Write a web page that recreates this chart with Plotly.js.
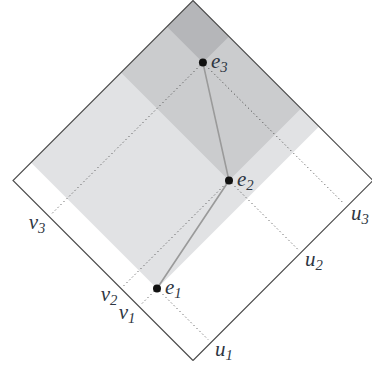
<!DOCTYPE html>
<html>
<head>
<meta charset="utf-8">
<script src="https://cdn.plot.ly/plotly-3.0.1.min.js"></script>
<style>
  html, body { margin: 0; padding: 0; background: #fff; }
  #chart { width: 372px; height: 369px; }
</style>
</head>
<body>
<div id="chart"></div>
<script>
// Events in light-cone coordinates (u, v), both running 0..1 along the diamond's lower edges
const eventLabels = ['e<sub>1</sub>', 'e<sub>2</sub>', 'e<sub>3</sub>'];
const uVals = [0.10, 0.60, 0.855];
const vVals = [0.30, 0.40, 0.80];
const uLabels = ['u<sub>1</sub>', 'u<sub>2</sub>', 'u<sub>3</sub>'];
const vLabels = ['v<sub>1</sub>', 'v<sub>2</sub>', 'v<sub>3</sub>'];
const coneFills = ['#e1e2e4', '#cbccce', '#b5b6b9'];

// Rotate (u, v) into the plane: u grows up-right, v grows up-left
const toX = (u, v) => u - v;
const toY = (u, v) => u + v;

// one plot unit = 180 px on both axes
const PX = 1 / 180;
const textColor = '#2e3642';
const textFont = () => ({ family: 'Liberation Serif', size: 21, style: 'italic', color: textColor });

const traces = [];

// Future region of each event: u >= u_i and v >= v_i
uVals.forEach((u, i) => {
  const v = vVals[i];
  const cu = [u, 1, 1, u, u];
  const cv = [v, v, 1, 1, v];
  traces.push({
    type: 'scatter', mode: 'lines', hoverinfo: 'skip',
    x: cu.map((a, k) => toX(a, cv[k])),
    y: cu.map((a, k) => toY(a, cv[k])),
    fill: 'toself', fillcolor: coneFills[i],
    line: { width: 0, color: coneFills[i] }
  });
});

// Diamond boundary
const bu = [0, 1, 1, 0, 0];
const bv = [0, 0, 1, 1, 0];
traces.push({
  type: 'scatter', mode: 'lines', hoverinfo: 'skip',
  x: bu.map((a, k) => toX(a, bv[k])),
  y: bu.map((a, k) => toY(a, bv[k])),
  line: { color: '#4a4a4a', width: 1.1 }
});

// Dotted projections of each event onto the u and v edges
const edgeGap = 0.015;
uVals.forEach((u, i) => {
  const v = vVals[i];
  traces.push({
    type: 'scatter', mode: 'lines', hoverinfo: 'skip',
    x: [toX(u, v), toX(u, edgeGap)],
    y: [toY(u, v), toY(u, edgeGap)],
    line: { color: '#3a3a3a', width: 1, dash: '1px,3px' }
  });
  traces.push({
    type: 'scatter', mode: 'lines', hoverinfo: 'skip',
    x: [toX(u, v), toX(edgeGap, v)],
    y: [toY(u, v), toY(edgeGap, v)],
    line: { color: '#3a3a3a', width: 1, dash: '1px,3px' }
  });
});

// Worldline through the events
traces.push({
  type: 'scatter', mode: 'lines', hoverinfo: 'skip',
  x: uVals.map((u, i) => toX(u, vVals[i])),
  y: uVals.map((u, i) => toY(u, vVals[i])),
  line: { color: '#9a9a9a', width: 1.6 }
});

// Events
traces.push({
  type: 'scatter', mode: 'markers', hoverinfo: 'skip', cliponaxis: false,
  x: uVals.map((u, i) => toX(u, vVals[i])),
  y: uVals.map((u, i) => toY(u, vVals[i])),
  marker: { color: '#111', size: 8 }
});

// Event labels, to the right of each event
traces.push({
  type: 'scatter', mode: 'text', hoverinfo: 'skip', cliponaxis: false,
  x: uVals.map((u, i) => toX(u, vVals[i]) + 8 * PX),
  y: uVals.map((u, i) => toY(u, vVals[i])),
  text: eventLabels,
  textposition: 'middle right',
  textfont: textFont()
});

// u labels below-right of the lower-right edge
traces.push({
  type: 'scatter', mode: 'text', hoverinfo: 'skip', cliponaxis: false,
  x: uVals.map(u => toX(u, 0) + 13 * PX),
  y: uVals.map(u => toY(u, 0) - 8 * PX),
  text: uLabels,
  textposition: 'middle center',
  textfont: textFont()
});

// v labels below-left of the lower-left edge
traces.push({
  type: 'scatter', mode: 'text', hoverinfo: 'skip', cliponaxis: false,
  x: vVals.map(v => toX(0, v) - 12 * PX),
  y: vVals.map(v => toY(0, v) - 7 * PX),
  text: vLabels,
  textposition: 'middle center',
  textfont: textFont()
});

const layout = {
  width: 372, height: 369,
  margin: { l: 0, r: 0, t: 0, b: 0 },
  paper_bgcolor: '#fff', plot_bgcolor: '#fff',
  showlegend: false,
  xaxis: { range: [-193 * PX, 179 * PX], visible: false, fixedrange: true },
  yaxis: { range: [-8.5 * PX, 360.5 * PX], visible: false, fixedrange: true }
};

Plotly.newPlot('chart', traces, layout, { staticPlot: true, displayModeBar: false });
</script>
</body>
</html>
